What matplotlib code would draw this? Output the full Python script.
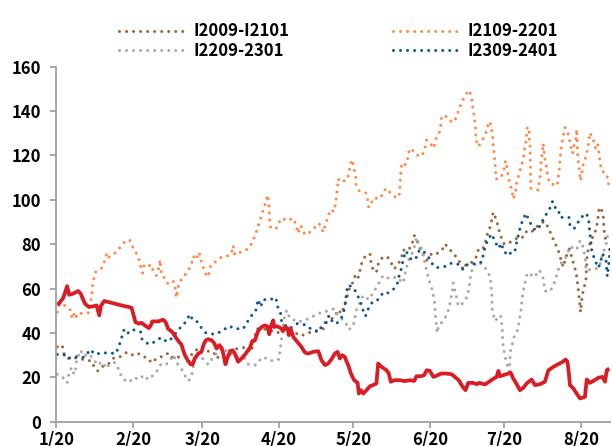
import numpy as np
import pandas as pd
import matplotlib
matplotlib.use("Agg")
import matplotlib.pyplot as plt

plt.rcParams['font.family'] = ['Noto Sans CJK SC', 'DejaVu Sans']
plt.rcParams['font.weight'] = 'bold'

# days after 1/20 and values
i2009_day = [0.3, 2.3, 3.0, 4.4, 7.4, 11.2, 14.2, 15.5, 16.8, 18.9, 20.9, 23.3, 25.6, 28.3, 30.3, 32.6,
             35.3, 36.8, 38.4, 40.7, 43.1, 45.4, 47.2, 49.6, 51.2, 53.2, 55.5, 57.3, 59.3, 60.9, 63.6,
             64.7, 66.3, 68.7, 71.4, 73.4, 75.5, 77.1, 78.4, 79.5, 80.9, 83.1, 86.2, 89.2, 93.0, 95.9,
             98.8, 101.7, 105.4, 107.8, 109.2, 111.2, 112.5, 113.8, 115.2, 116.5, 118.6, 119.9, 120.6,
             121.7, 122.6, 123.3, 124.6, 126.7, 127.1, 128.0, 129.3, 130.0, 131.8, 133.8, 135.1, 136.5,
             138.1, 139.5, 140.1, 141.5, 143.5, 144.6, 145.2, 146.2, 147.5, 149.6, 151.6, 153.3, 155.9,
             157.0, 159.0, 161.3, 163.0, 164.4, 165.7, 168.0, 169.5, 170.5, 172.2, 173.2, 174.1, 175.2,
             175.9, 176.5, 177.9, 178.6, 179.5, 180.6, 181.7, 183.3, 184.2, 186.9, 188.7, 190.0, 192.0,
             193.4, 195.4, 197.0, 198.8, 200.1, 201.5, 202.8, 203.8, 204.8, 205.9, 207.3, 208.2, 209.1,
             210.0, 210.5, 210.9, 211.3, 211.6, 211.8, 212.5, 213.3, 214.0, 214.5, 215.3, 216.7, 218.0,
             218.6, 219.0, 219.4, 220.3, 221.0, 221.4, 222.0]
i2009_val = [33.7, 34.5, 30.7, 28.5, 28.8, 28.0, 27.3, 24.0, 22.8, 25.2, 25.9, 28.9, 29.2, 31.2, 30.0, 31.0,
             29.2, 28.9, 26.5, 28.8, 29.5, 31.0, 28.5, 29.2, 30.0, 29.5, 30.7, 33.4, 33.4, 31.9, 31.2,
             28.5, 30.0, 31.8, 32.5, 33.0, 33.4, 33.4, 31.2, 34.5, 41.9, 41.9, 41.2, 40.0, 42.2, 40.4,
             38.7, 40.0, 41.2, 41.9, 44.9, 46.4, 47.2, 50.5, 48.7, 52.4, 61.0, 62.9, 65.5,
             64.0, 67.9, 71.2, 74.2, 75.7, 71.9, 68.2, 67.4, 70.9, 74.2, 74.2, 71.9, 68.9,
             70.9, 74.2, 77.5, 76.9, 79.0, 83.9, 82.4, 80.4, 76.4, 72.7, 75.7, 75.4, 77.5,
             80.1, 77.5, 74.6, 71.9, 68.5, 71.2, 71.9, 73.9, 77.5, 77.5, 80.4, 84.3, 87.6,
             90.9, 94.4, 90.6, 87.3, 83.9, 80.4, 79.9, 80.9, 81.2, 83.4, 83.1, 85.8, 85.4,
             87.6, 88.7, 90.3, 87.6, 83.9, 80.4, 77.2, 73.4, 69.7, 74.2, 77.9, 74.2, 70.9,
             67.1, 63.4, 59.5, 55.9, 52.4, 49.4, 56.9, 60.7, 64.4, 75.7, 79.4, 83.1, 86.4,
             89.9, 93.3, 96.6, 95.6, 92.1, 85.4, 81.6]

i2109_day = [0.3, 1.3, 4.0, 5.7, 6.3, 7.4, 8.1, 9.0, 11.2, 13.1, 13.7, 14.2, 14.4, 15.0, 15.8, 18.5, 19.5,
             20.4, 21.2, 23.3, 25.6, 27.6, 29.6, 31.0, 32.6, 33.7, 34.4, 34.8, 35.4, 37.1, 38.0, 39.4,
             40.4, 41.4, 41.8, 42.5, 43.4, 44.1, 45.4, 47.3, 48.1, 48.4, 48.9, 49.5, 51.2, 53.2, 54.6,
             55.3, 56.6, 57.3, 57.9, 58.6, 59.6, 60.9, 61.6, 62.3, 64.0, 66.7, 69.8, 70.7, 71.4, 72.1,
             74.4, 77.5, 79.2, 80.5, 81.5, 82.5, 83.5, 84.4, 85.3, 85.8, 86.0, 86.2, 86.5, 88.7, 90.0,
             91.2, 93.0, 95.7, 96.8, 97.6, 98.8, 100.0, 101.3, 103.8, 106.1, 107.1, 107.8, 108.8, 109.8,
             110.8, 112.1, 112.9, 113.2, 113.6, 113.8, 114.8, 117.6, 118.2, 118.8, 119.5, 120.2, 120.9,
             121.0, 122.3, 125.0, 125.7, 126.2, 127.1, 128.0, 131.0, 132.0, 133.4, 135.1, 137.4, 138.5,
             138.8, 139.0, 139.2, 139.5, 141.1, 142.2, 142.6, 144.2, 146.5, 147.8, 148.9, 149.6, 150.9,
             152.5, 153.2, 154.7, 155.4, 155.6, 157.9, 159.9, 161.7, 162.6, 163.7, 165.3, 166.8, 167.8,
             168.2, 168.7, 169.1, 169.4, 169.5, 170.5, 172.2, 173.6, 174.5, 175.2, 175.9, 176.3, 176.5,
             176.9, 177.2, 177.5, 177.6, 179.5, 180.8, 181.5, 182.2, 182.6, 183.5, 184.2, 184.6, 185.6,
             186.0, 186.9, 187.7, 188.7, 189.1, 189.7, 190.3, 191.0, 191.1, 191.4, 191.45, 191.5, 191.6,
             191.65, 191.7, 194.7, 195.1, 195.7, 195.8, 196.1, 196.5, 196.7, 197.4, 198.1, 198.5, 199.4,
             202.4, 202.8, 203.2, 203.5, 203.8, 204.2, 204.8, 205.5, 206.5, 207.3, 207.9, 208.6, 209.1,
             210.0, 210.2, 210.5, 210.6, 210.9, 211.3, 211.6, 211.8, 212.9, 214.0, 214.7, 215.2, 215.6,
             217.0, 217.6, 217.9, 218.7, 219.3, 219.7, 220.3, 222.4, 223.0, 223.3]
i2109_val = [49.4, 53.2, 52.1, 50.2, 46.4, 49.4, 47.2, 48.7, 49.0, 49.1, 53.2, 56.6, 60.2, 64.0, 67.4, 69.4, 72.7,
             76.1, 74.2, 75.7, 78.4, 81.2, 81.9, 78.4, 75.2, 71.9, 68.2, 67.0, 70.4, 69.7, 70.9, 67.4,
             65.9, 69.4, 73.0, 65.9, 65.2, 63.2, 61.9, 63.2, 59.6, 55.9, 58.9, 62.5, 65.2, 67.9, 71.2,
             74.6, 73.0, 76.4, 75.4, 71.9, 68.5, 65.2, 66.7, 70.4, 71.9, 74.2, 74.9, 76.0, 79.4, 75.2,
             76.4, 77.9, 80.9, 84.6, 88.1, 91.7, 95.1, 98.4, 102.2, 98.4, 94.8, 90.9, 87.6, 86.9, 89.9,
             91.8, 90.6, 91.7, 88.7, 84.9, 88.4, 85.1, 84.2, 86.9, 89.4, 87.2, 85.4, 89.1, 92.9,
             95.6, 94.7, 98.9, 102.2, 105.9, 109.4, 107.9, 109.1, 112.7, 116.1, 118.1, 114.3, 110.6,
             107.1, 104.1, 103.1, 100.4, 96.6, 98.1, 100.7, 100.7, 103.7, 105.2, 102.9, 100.8, 101.9,
             105.6, 109.4, 113.1, 116.6, 115.8, 119.6, 123.1, 122.1, 119.6, 119.9, 123.3, 127.0, 125.8,
             123.3, 127.0, 130.3, 134.1, 137.8, 137.5, 134.8, 137.1, 140.5, 143.8, 147.3, 149.4, 146.1,
             142.3, 138.6, 134.8, 131.1, 127.3, 124.0, 127.0, 130.3, 134.1, 135.3, 131.5, 128.1, 124.3,
             120.6, 116.9, 113.1, 109.4, 109.8, 113.1, 117.6, 113.9, 110.1, 106.7, 103.4, 100.4, 104.1,
             107.9, 111.3, 114.9, 118.4, 122.1, 125.8, 132.9, 131.1, 127.3, 123.6, 119.9, 116.1, 112.4,
             108.9, 105.2, 104.4, 108.3, 111.9, 115.8, 119.1, 122.8, 125.4, 118.1, 114.3, 110.6, 107.4,
             106.4, 110.1, 113.9, 117.6, 121.3, 125.1, 128.8, 132.6, 131.1, 127.0, 123.9, 120.9, 124.3,
             128.1, 131.8, 128.1, 120.9, 117.3, 113.9, 110.4, 108.6, 116.1, 119.6, 123.3, 126.9, 130.3,
             127.0, 123.9, 123.3, 125.4, 120.3, 116.7, 113.1, 111.6, 107.9, 104.4]

i2209_day = [0.3, 2.4, 4.3, 4.9, 6.1, 7.1, 7.7, 8.1, 9.7, 11.2, 12.8, 14.8, 16.6, 18.5, 20.2, 21.3, 23.6,
             25.2, 26.3, 28.0, 29.2, 31.4, 33.4, 35.3, 37.1, 39.5, 40.8, 42.2, 43.8, 45.4, 47.2, 49.2,
             50.8, 52.2, 53.5, 54.9, 55.9, 57.3, 59.3, 61.3, 62.3, 63.6, 65.4, 67.4, 69.4, 71.2, 73.8,
             76.1, 77.5, 80.5, 82.2, 83.8, 85.6, 88.3, 90.0, 90.3, 90.7, 91.2, 91.6, 92.0, 93.0, 94.3,
             97.7, 99.7, 102.1, 105.1, 107.5, 109.8, 112.1, 114.0, 116.8, 118.2, 119.9, 121.3, 124.0,
             126.2, 128.4, 130.0, 132.0, 134.7, 137.4, 140.1, 141.2, 142.4, 143.8, 144.8, 145.5, 146.5,
             147.8, 148.9, 149.6, 150.5, 151.6, 152.7, 152.9, 153.2, 153.6, 153.8, 154.5, 155.9, 157.6,
             158.7, 159.4, 160.0, 160.3, 161.0, 161.7, 162.4, 164.4, 166.1, 166.7, 167.1, 167.8, 169.8,
             171.8, 173.2, 175.2, 175.6, 175.9, 176.0, 176.1, 176.8, 177.2, 179.5, 179.9, 180.2, 180.3,
             180.6, 181.2, 181.9, 182.6, 183.0, 183.3, 183.5, 184.3, 185.0, 186.6, 187.0, 187.6, 188.0,
             188.4, 188.9, 190.3, 193.4, 194.7, 195.4, 196.5, 197.0, 197.4, 199.4, 200.8, 201.9, 202.8,
             203.8, 204.8, 206.2, 207.5, 210.2, 211.6, 212.9, 213.6, 214.0, 215.3, 217.2, 219.4, 220.7,
             222.1, 223.0]
i2209_val = [21.4, 20.2, 17.5, 21.0, 24.4, 21.4, 23.2, 27.4, 32.2, 29.5, 30.7, 28.5, 25.5, 27.0, 24.0, 25.9, 26.7,
             23.5, 20.2, 18.4, 17.7, 19.9, 19.0, 21.0, 19.0, 21.4, 23.2, 25.9, 25.5, 26.7, 30.0, 25.5,
             23.2, 20.2, 18.4, 22.0, 28.5, 30.7, 28.2, 25.8, 27.7, 28.8, 32.2, 33.4, 30.7, 30.3, 28.8,
             28.5, 25.9, 25.5, 27.7, 29.2, 27.7, 27.4, 28.2, 31.8, 35.2, 39.0, 43.1, 46.4, 50.2, 46.7,
             44.9, 45.7, 46.4, 48.4, 49.4, 49.9, 50.9, 47.5, 44.9, 41.5, 43.0, 50.5, 56.9,
             55.0, 58.9, 61.9, 65.9, 64.4, 65.2, 62.5, 68.5, 73.0, 76.0, 79.4, 83.1, 80.4,
             77.5, 71.5, 67.9, 64.0, 60.4, 55.0, 51.4, 47.5, 43.4, 40.0, 43.4, 44.9, 47.9,
             51.4, 55.4, 59.2, 62.5, 59.2, 55.9, 52.1, 53.5, 56.6, 60.2, 64.0, 67.9, 71.9,
             71.2, 69.4, 65.6, 62.2, 58.4, 54.7, 50.9, 47.2, 45.4, 47.9, 44.6, 40.9, 37.2,
             33.4, 30.0, 26.5, 24.0, 22.5, 28.5, 31.9, 35.2, 38.5, 41.9, 45.7, 49.4, 53.2,
             56.9, 60.2, 67.1, 65.2, 68.2, 67.9, 65.5, 62.5, 58.9, 58.7, 61.4, 64.9, 68.5,
             71.2, 72.7, 74.5, 79.0, 77.5, 81.6, 78.7, 74.2, 68.2, 68.5, 68.5, 69.7, 75.7,
             79.4, 86.4]

i2309_day = [0.3, 3.6, 4.7, 7.1, 8.1, 10.4, 11.5, 12.1, 13.5, 15.8, 17.9, 20.9, 24.0, 25.2, 26.3, 27.2,
             28.3, 30.6, 34.0, 34.6, 37.3, 39.8, 42.2, 44.7, 46.5, 49.9, 52.2, 53.9, 55.0, 56.6, 58.3,
             60.4, 64.0, 67.0, 69.7, 72.4, 75.5, 77.1, 78.6, 80.5, 81.1, 81.5, 82.5, 83.5, 86.2, 88.7,
             89.3, 90.6, 91.0, 94.1, 97.3, 100.4, 103.1, 105.8, 107.4, 108.9, 110.2, 111.6, 113.2,
             115.2, 116.3, 116.8, 117.6, 119.0, 120.3, 121.7, 123.0, 124.0, 124.9, 126.2, 128.0, 130.0,
             132.0, 133.4, 136.1, 137.8, 138.5, 139.5, 140.1, 141.2, 143.2, 145.1, 146.2, 147.8, 150.2,
             151.6, 153.6, 157.0, 159.7, 162.6, 164.4, 166.1, 168.8, 171.8, 173.2, 174.5, 175.9, 177.2,
             178.6, 179.9, 180.6, 181.2, 182.9, 184.0, 185.3, 186.0, 187.6, 188.7, 189.7, 191.1, 192.0,
             193.4, 194.7, 196.1, 197.8, 199.4, 200.5, 201.5, 202.8, 203.5, 205.2, 207.1, 207.5, 209.1,
             210.2, 211.8, 214.0, 215.0, 215.3, 216.3, 217.6, 219.0, 219.7, 220.7, 222.1, 222.6, 223.4,
             223.7]
i2309_val = [30.3, 30.0, 28.5, 29.5, 29.2, 28.8, 29.5, 30.0, 32.5, 30.3, 31.0, 31.0, 30.7, 34.0, 37.8, 41.2,
             39.4, 41.6, 40.4, 37.0, 34.9, 36.0, 37.9, 36.0, 37.5, 42.2, 44.9, 48.4, 46.0, 45.4, 42.7,
             40.0, 39.4, 40.9, 43.1, 41.9, 41.9, 44.9, 47.5, 49.9, 53.2, 55.1, 51.7, 55.0, 55.0, 55.9,
             52.1, 48.7, 44.9, 41.9, 44.2, 43.7, 41.6, 40.4, 43.4, 44.9, 47.9, 44.9, 44.2,
             46.9, 50.5, 54.2, 61.4, 61.1, 59.9, 56.9, 53.5, 49.9, 47.6, 51.4, 54.4, 55.0,
             58.1, 57.7, 59.5, 62.5, 65.9, 69.4, 73.0, 76.9, 73.4, 73.1, 76.7, 77.5, 74.5,
             71.5, 69.4, 70.0, 71.5, 70.9, 68.5, 70.9, 71.2, 71.9, 78.7, 82.4, 84.6, 81.3,
             78.2, 80.4, 77.0, 76.4, 74.9, 77.0, 77.0, 80.9, 88.4, 91.4, 93.9, 90.6, 88.4,
             86.4, 86.9, 89.9, 93.2, 96.2, 99.3, 96.6, 95.9, 92.1, 92.1, 92.1, 88.7, 86.9,
             88.7, 91.8, 93.9, 92.1, 88.1, 77.5, 72.7, 69.4, 71.2, 75.7, 72.7, 65.5, 72.7,
             80.1]

spread_day = [0.9, 2.7, 4.3, 5.1, 6.7, 8.8, 9.8, 11.5, 13.1, 14.8, 16.2, 17.3, 17.9, 19.3, 22.2, 26.3,
              30.3, 31.0, 31.9, 33.3, 34.4, 35.7, 37.3, 38.1, 38.7, 41.1, 43.1, 44.1, 45.1, 46.8, 48.1,
              49.5, 50.5, 51.2, 51.9, 53.0, 54.3, 55.0, 55.9, 57.3, 58.6, 59.6, 60.4, 61.3, 62.7, 63.7,
              64.7, 65.8, 66.7, 67.4, 68.3, 69.0, 70.1, 71.2, 72.1, 73.4, 74.8, 76.5, 78.2, 79.2, 80.2,
              81.5, 82.9, 84.2, 85.2, 86.0, 86.6, 87.6, 88.0, 89.2, 90.6, 91.6, 92.3, 93.3, 93.9, 94.6,
              95.7, 97.3, 99.0, 100.4, 101.7, 103.8, 105.8, 107.1, 108.5, 109.8, 111.2, 112.5, 113.6,
              114.5, 115.5, 116.5, 117.9, 119.0, 120.3, 121.7, 122.2, 123.0, 124.0, 125.3, 126.7, 128.0,
              129.3, 130.0, 131.4, 133.4, 134.3, 135.1, 136.5, 138.8, 140.8, 142.8, 144.6, 145.5, 147.3,
              148.6, 149.6, 150.9, 152.3, 153.6, 155.4, 157.6, 159.7, 161.0, 162.6, 164.0, 165.3, 166.4,
              168.4, 169.8, 170.9, 171.8, 173.2, 175.2, 176.8, 177.9, 178.6, 179.2, 180.6, 182.6, 183.5,
              184.6, 186.0, 187.3, 188.7, 190.0, 192.0, 193.4, 195.4, 197.4, 198.8, 200.8, 203.2, 204.6,
              205.8, 206.5, 207.1, 207.5, 208.9, 210.2, 211.6, 213.6, 214.3, 215.6, 217.0, 219.0, 220.7,
              221.7, 222.4, 222.8]
spread_val = [53.2, 55.7, 61.1, 57.2, 57.7, 58.9, 57.7, 53.2, 51.7, 52.0, 52.4, 47.9, 52.1, 54.4, 53.6, 52.4,
              51.4, 48.7, 44.9, 44.2, 44.6, 43.4, 42.2, 43.4, 45.2, 45.2, 46.0, 44.9, 41.9, 40.4, 38.2,
              36.0, 34.8, 32.2, 30.0, 27.7, 25.8, 25.8, 28.5, 30.7, 31.5, 35.2, 36.7, 37.2, 36.7, 35.5,
              33.0, 34.5, 33.4, 30.7, 25.9, 28.5, 31.5, 32.2, 30.7, 27.0, 28.5, 30.7, 33.4, 36.4, 36.7,
              40.9, 42.7, 43.4, 43.0, 39.4, 42.7, 45.7, 42.7, 43.0, 42.2, 40.9, 42.7, 42.2, 39.0, 41.9,
              38.2, 36.0, 33.7, 31.2, 30.7, 31.5, 31.8, 27.7, 25.5, 26.2, 28.2, 30.7, 31.5,
              28.5, 30.0, 29.2, 25.5, 21.7, 18.7, 17.5, 12.7, 14.2, 12.7, 14.2, 16.0, 16.5,
              17.2, 26.2, 24.7, 23.2, 21.7, 18.0, 18.7, 18.7, 18.3, 18.7, 18.4, 20.5, 20.5,
              21.0, 23.2, 22.9, 20.2, 20.7, 21.7, 21.7, 21.4, 20.2, 18.7, 16.0, 14.2, 17.5,
              17.5, 16.9, 17.5, 17.2, 16.8, 18.3, 19.5, 20.2, 22.9, 20.5, 21.0, 21.7, 22.2,
              19.5, 16.9, 14.2, 15.3, 17.2, 19.0, 16.5, 16.9, 18.0, 23.2, 24.7, 26.2, 27.0,
              28.0, 27.0, 21.7, 16.5, 15.0, 12.7, 10.5, 11.2, 19.0, 17.5, 18.4, 19.8, 20.2,
              18.0, 23.2, 23.5]

tick_dates = ['01-20', '02-20', '03-20', '04-20', '05-20', '06-20', '07-20', '08-20']
tick_labels = ['1/20', '2/20', '3/20', '4/20', '5/20', '6/20', '7/20', '8/20']

base = pd.Timestamp('2023-01-20')
tick_pos = [(pd.Timestamp('2023-' + d) - base).days for d in tick_dates]
x_end = (pd.Timestamp('2023-08-31') - base).days + 0.7

fig = plt.figure(figsize=(6.12, 4.46), dpi=100)
ax = fig.add_axes([0.0923, 0.0545, 0.9044, 0.7959])

dots = (0, (0.001, 2.3))
kw = dict(lw=2.2, linestyle=dots, dash_capstyle='round', solid_capstyle='round')
l1, = ax.plot(i2009_day, i2009_val, color='#A0643A', label='I2009-I2101', **kw)
l2, = ax.plot(i2109_day, i2109_val, color='#FF8A4C', label='I2109-2201', **kw)
l3, = ax.plot(i2209_day, i2209_val, color='#A8A8A8', label='I2209-2301', **kw)
l4, = ax.plot(i2309_day, i2309_val, color='#0E5A8A', label='I2309-2401', **kw)
ax.plot(spread_day, spread_val, color='#DA1C24', lw=2.7, solid_joinstyle='round')

ax.set_xlim(0, x_end)
ax.set_ylim(0, 160)
ax.set_yticks(np.arange(0, 161, 20))
ax.set_xticks(tick_pos)
ax.set_xticklabels(tick_labels)

for s in ['top', 'right']:
    ax.spines[s].set_visible(False)
for s in ['left', 'bottom']:
    ax.spines[s].set_color('#A0A0A0')
    ax.spines[s].set_linewidth(1.3)
ax.tick_params(axis='both', colors='#A0A0A0', length=4, width=1.3, labelcolor='black', labelsize=12)
ax.tick_params(axis='y', pad=7)
ax.tick_params(axis='x', pad=3)
for t in ax.get_xticklabels() + ax.get_yticklabels():
    t.set_fontweight('bold')

leg = fig.legend([l1, l3, l2, l4], ['I2009-I2101', 'I2209-2301', 'I2109-2201', 'I2309-2401'],
                 ncol=2, loc='upper left', bbox_to_anchor=(0.175, 0.976), frameon=False,
                 prop={'size': 12, 'weight': 'bold'}, handlelength=4.2, handletextpad=0.3,
                 columnspacing=6.2, labelspacing=0.1, borderpad=0.2)

fig.savefig('out.png', dpi=100)
